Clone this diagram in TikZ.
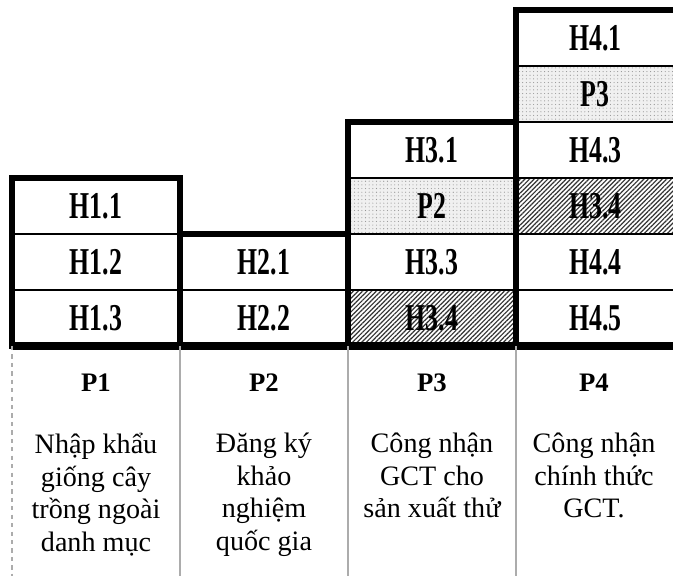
\documentclass[tikz,border=0pt]{standalone}
\usepackage{fontspec}
\setmainfont{Liberation Serif}
\newfontfamily\cellfont[FakeStretch=0.68, BoldFont={Liberation Serif Bold}]{Liberation Serif}
\usetikzlibrary{patterns.meta}
\tikzset{
  cell/.style={draw, line width=2pt, outer sep=0pt, inner sep=0pt,
    minimum width=4.2cm, minimum height=1.4cm,
    font=\cellfont\bfseries\fontsize{27}{30}\selectfont},
  lastcell/.style={cell, minimum width=3.96cm},
  dotcell/.style={preaction={fill=gray!12},
    pattern={Dots[distance=2.6pt,radius=0.4pt]}, pattern color=gray!85},
  hatchcell/.style={pattern={Lines[angle=45,distance=2.3pt,line width=0.85pt]},
    pattern color=black!80},
  outline/.style={line width=4pt, line join=miter, line cap=rect},
  baseline/.style={line width=5.5pt},
  sepline/.style={draw=gray!65, line width=0.8pt},
  phase/.style={anchor=base, inner sep=0pt, font=\bfseries\fontsize{19}{22}\selectfont},
  desc/.style={anchor=north, inner sep=0pt, align=center,
    font=\fontsize{20}{23.2}\selectfont, execute at begin node={\rule{0pt}{20pt}}}
}
\begin{document}
\begin{tikzpicture}
  \useasboundingbox (0,0) rectangle (16.825,14.4);
  \coordinate (floor) at (0,0);
  % cells of the four steps
  \draw
    (2.4,9.25) node[cell] (h11){H1.1}
    (2.4,7.85) node[cell] (h12){H1.2}
    (2.4,6.45) node[cell] (h13){H1.3}
    (6.6,7.85) node[cell] (h21){H2.1}
    (6.6,6.45) node[cell] (h22){H2.2}
    (10.8,10.65) node[cell] (h31){H3.1}
    (10.8,9.25) node[cell,dotcell] (h32){P2}
    (10.8,7.85) node[cell] (h33){H3.3}
    (10.8,6.45) node[cell,hatchcell] (h34){H3.4}
    (14.88,13.45) node[lastcell] (h41){H4.1}
    (14.88,12.05) node[lastcell,dotcell] (h42){P3}
    (14.88,10.65) node[lastcell] (h43){H4.3}
    (14.88,9.25) node[lastcell,hatchcell] (h44){H3.4}
    (14.88,7.85) node[lastcell] (h45){H4.4}
    (14.88,6.45) node[lastcell] (h46){H4.5};
  \begin{scope}[outline]
    \draw (h13.south west) -- (h11.north west) -- (h11.north east)
      -- (h21.north west) -- (h21.north east) -- (h31.north west)
      -- (h31.north east) -- (h41.north west) -- (h41.north east);
    \draw (h13.south east) -- (h12.north east);
    \draw (h22.south east) -- (h21.north east);
    \draw (h34.south east) -- (h31.north east);
  \end{scope}
  \draw[baseline] (h13.south west) -- (h46.south east);
  % step captions
  \draw[sepline, dashed] (h13.south west) -- (h13.south west |- floor);
  \draw[sepline] (h13.south east) -- (h13.south east |- floor);
  \draw[sepline] (h22.south east) -- (h22.south east |- floor);
  \draw[sepline] (h34.south east) -- (h34.south east |- floor);
  \draw
    (2.4,4.6) node[phase] (p1){P1}
    (6.6,4.6) node[phase] (p2){P2}
    (10.8,4.6) node[phase] (p3){P3}
    (14.85,4.6) node[phase] (p4){P4};
  \draw
    (2.4,3.58) node[desc] (d1){Nhập khẩu\\giống cây\\trồng ngoài\\danh mục}
    (6.6,3.58) node[desc] (d2){Đăng ký\\khảo\\nghiệm\\quốc gia}
    (10.8,3.58) node[desc] (d3){Công nhận\\GCT cho\\sản xuất thử}
    (14.85,3.58) node[desc] (d4){Công nhận\\chính thức\\GCT.};
\end{tikzpicture}
\end{document}
